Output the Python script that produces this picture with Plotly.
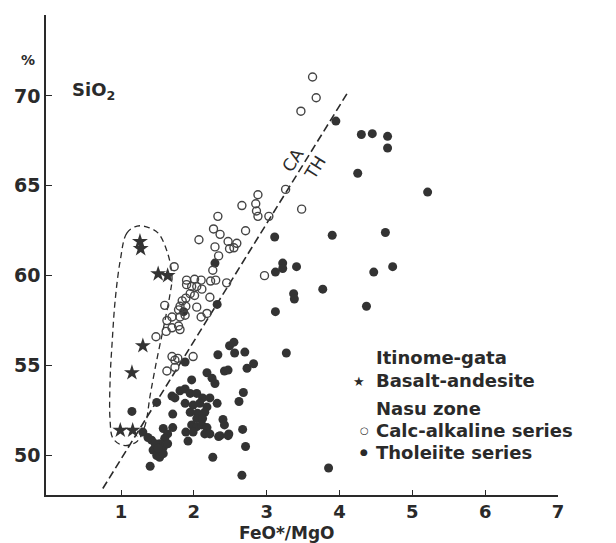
import plotly.graph_objects as go

# ---- data (FeO*/MgO, SiO2 %) ----
star_x = [1.26, 1.27, 1.51, 1.64, 1.30, 1.15, 0.99, 1.16]
star_y = [61.9, 61.5, 60.1, 60.0, 56.1, 54.6, 51.4, 51.4]

ca_x = [3.63, 3.68, 3.47, 3.26, 3.48, 2.88, 2.85, 2.86, 2.88, 2.66, 3.03, 2.33, 2.27, 2.36,
        2.71, 2.07, 2.29, 2.47, 2.59, 2.49, 2.55, 2.34, 1.73, 2.26, 2.23, 2.30, 2.45, 2.97,
        1.90, 2.01, 2.10, 1.90, 1.97, 2.04, 2.11, 1.95, 2.01, 2.22, 1.84, 1.89, 1.60, 1.81,
        1.89, 2.04, 1.79, 1.70, 1.81, 1.88, 2.10, 2.18, 1.63, 1.70, 1.79, 1.62, 1.81, 1.48,
        1.70, 1.74, 1.78, 1.99, 1.63, 1.74]
ca_y = [71.05, 69.9, 69.15, 64.8, 63.7, 64.5, 64.0, 63.6, 63.3, 63.9, 63.3, 63.3, 62.6, 62.3,
        62.5, 62.0, 61.6, 61.9, 61.8, 61.5, 61.55, 61.1, 60.5, 60.3, 59.7, 59.75, 59.6, 60.0,
        59.75, 59.8, 59.75, 59.5, 59.4, 59.4, 59.25, 59.0, 58.9, 58.8, 58.6, 58.75, 58.35, 58.3,
        58.3, 58.25, 58.1, 57.7, 57.7, 57.8, 57.7, 57.9, 57.5, 57.1, 57.2, 56.9, 57.0, 56.6,
        55.5, 55.3, 55.4, 55.5, 54.7, 54.9]

th_x = [3.95, 4.30, 4.45, 4.66, 4.66, 4.25, 5.21, 3.90, 4.63, 4.47, 4.73, 3.11, 3.22, 3.22,
        3.12, 3.41, 3.77, 3.37, 3.38, 4.37, 3.12, 3.27, 3.85, 2.29, 2.32, 1.86, 1.88,
        2.49, 2.55, 2.33, 2.56, 2.70, 2.42, 2.47, 2.73, 2.82, 2.68, 2.62, 2.40, 2.42, 2.48,
        2.34, 2.67, 2.71, 2.26, 2.66, 2.18, 2.25, 2.29, 1.97, 1.81, 1.88, 1.70, 1.74, 1.49,
        1.95, 2.04, 2.12, 2.22, 2.32, 1.88, 1.99, 2.08, 2.18, 1.95, 2.05, 2.15, 2.04, 2.12,
        1.71, 1.15, 1.97, 2.04, 2.11, 2.18, 1.89, 1.99, 2.15, 2.22, 1.92, 2.36, 2.47, 1.58,
        1.64, 1.60, 1.53, 1.58, 1.64, 1.71, 1.30, 1.37, 1.42, 1.44, 1.49, 1.53, 1.58, 1.47,
        1.51, 1.40]
th_y = [68.6, 67.85, 67.9, 67.75, 67.1, 65.7, 64.65, 62.25, 62.4, 60.2, 60.5, 62.15, 60.7, 60.4,
        60.2, 60.5, 59.25, 59.0, 58.7, 58.3, 58.0, 55.7, 49.3, 60.7, 58.4, 58.0, 55.2,
        56.1, 56.3, 55.6, 55.7, 55.75, 54.7, 54.75, 54.85, 55.1, 53.5, 53.0, 52.0, 51.7, 51.2,
        51.05, 51.45, 50.5, 49.9, 48.9, 54.6, 54.3, 54.0, 54.2, 53.6, 53.7, 53.3, 53.2, 52.95,
        53.45, 53.45, 53.2, 53.2, 52.9, 52.9, 52.8, 52.9, 52.7, 52.4, 52.35, 52.4, 52.05, 52.05,
        52.3, 52.45, 51.7, 51.6, 51.7, 51.55, 51.3, 51.3, 51.2, 51.2, 50.8, 51.1, 51.1, 51.5,
        51.2, 50.95, 50.65, 50.45, 50.65, 51.55, 51.3, 51.0, 50.85, 50.3, 50.0, 49.9, 50.1, 50.65,
        50.4, 49.4]

# CA / TH dividing line
div_x = [0.75, 4.11]
div_y = [48.16, 70.17]

# dashed field enclosing Itinome-gata samples
loop_x = [1.22, 1.08, 0.99, 0.92, 0.88, 0.85, 0.85, 0.89, 1.03, 1.22, 1.33, 1.40, 1.49, 1.59,
          1.67, 1.70, 1.64, 1.51, 1.36, 1.22]
loop_y = [62.76, 62.37, 60.86, 58.64, 56.41, 54.18, 51.95, 50.95, 50.56, 50.78, 51.67, 53.34,
          55.29, 57.24, 58.91, 59.92, 61.25, 62.37, 62.70, 62.76]

x_ticks = [1, 2, 3, 4, 5, 6, 7]
y_ticks = [50, 55, 60, 65, 70]

INK = "#2a2a2a"
FONT = "DejaVu Sans"

fig = go.Figure()
fig.add_trace(go.Scatter(x=div_x, y=div_y, mode="lines",
                         line=dict(color=INK, width=1.6, dash="8px,4px"), showlegend=False))
fig.add_trace(go.Scatter(x=loop_x, y=loop_y, mode="lines", line_shape="spline",
                         line=dict(color=INK, width=1.3, dash="6px,4px"), showlegend=False))
fig.add_trace(go.Scatter(x=th_x, y=th_y, mode="markers", name="Tholeiite series",
                         marker=dict(symbol="circle", size=9, color="#333333",
                                     line=dict(width=0)), showlegend=False))
fig.add_trace(go.Scatter(x=ca_x, y=ca_y, mode="markers", name="Calc-alkaline series",
                         marker=dict(symbol="circle-open", size=8, color="#444444",
                                     line=dict(width=1.4)), showlegend=False))
fig.add_trace(go.Scatter(x=star_x, y=star_y, mode="markers", name="Basalt-andesite",
                         marker=dict(symbol="star", size=12, color="#333333",
                                     line=dict(width=0)), showlegend=False))

def ann(text, x, y, size=18, xanchor="center", angle=0, weight="bold", ref="data"):
    xr, yr = ("x", "y") if ref == "data" else ("paper", "paper")
    fig.add_annotation(text=text, x=x, y=y, xref=xr, yref=yr, showarrow=False,
                       xanchor=xanchor, yanchor="middle", textangle=angle,
                       font=dict(family=FONT, size=size, color=INK, weight=weight))

# labels that sit outside the plotting area use paper coordinates
ann("%", -0.035, 0.906, size=14, ref="paper")
ann("FeO*/MgO", 0.471, -0.080, size=17, ref="paper")

ann("SiO<sub>2</sub>", 0.62, 70.28, size=18)
ann("CA", 3.36, 66.43, size=17, angle=-58, weight="normal")
ann("TH", 3.66, 66.0, size=17, angle=-58, weight="normal")

ann("Itinome-gata", 4.48, 55.46, xanchor="left")
ann("★", 4.27, 54.12, size=13)
ann("Basalt-andesite", 4.48, 54.18, xanchor="left")
ann("Nasu zone", 4.48, 52.62, xanchor="left")
ann("○", 4.34, 51.39, size=10)
ann("Calc-alkaline series", 4.48, 51.39, xanchor="left")
ann("●", 4.34, 50.17, size=9)
ann("Tholeiite series", 4.48, 50.17, xanchor="left")

fig.update_xaxes(range=[-0.03, 7.0], tickvals=x_ticks, ticks="inside", ticklen=5,
                 tickcolor=INK, showline=True, linecolor=INK, linewidth=1.5,
                 showgrid=False, zeroline=False, automargin=False,
                 tickfont=dict(family=FONT, size=18, color=INK, weight="bold"))
fig.update_yaxes(range=[47.8, 74.5], tickvals=y_ticks, ticks="inside", ticklen=6,
                 tickcolor=INK, showline=True, linecolor=INK, linewidth=1.5,
                 showgrid=False, zeroline=False, automargin=False,
                 tickfont=dict(family=FONT, size=19, color=INK, weight="bold"))

# page body adds an 8px margin; the figure is sized so the plot lands where the reference has it
fig.update_layout(width=600, height=535, margin=dict(l=38, r=50, t=7, b=48),
                  plot_bgcolor="white", paper_bgcolor="white", showlegend=False)

fig.write_html("out.html")
